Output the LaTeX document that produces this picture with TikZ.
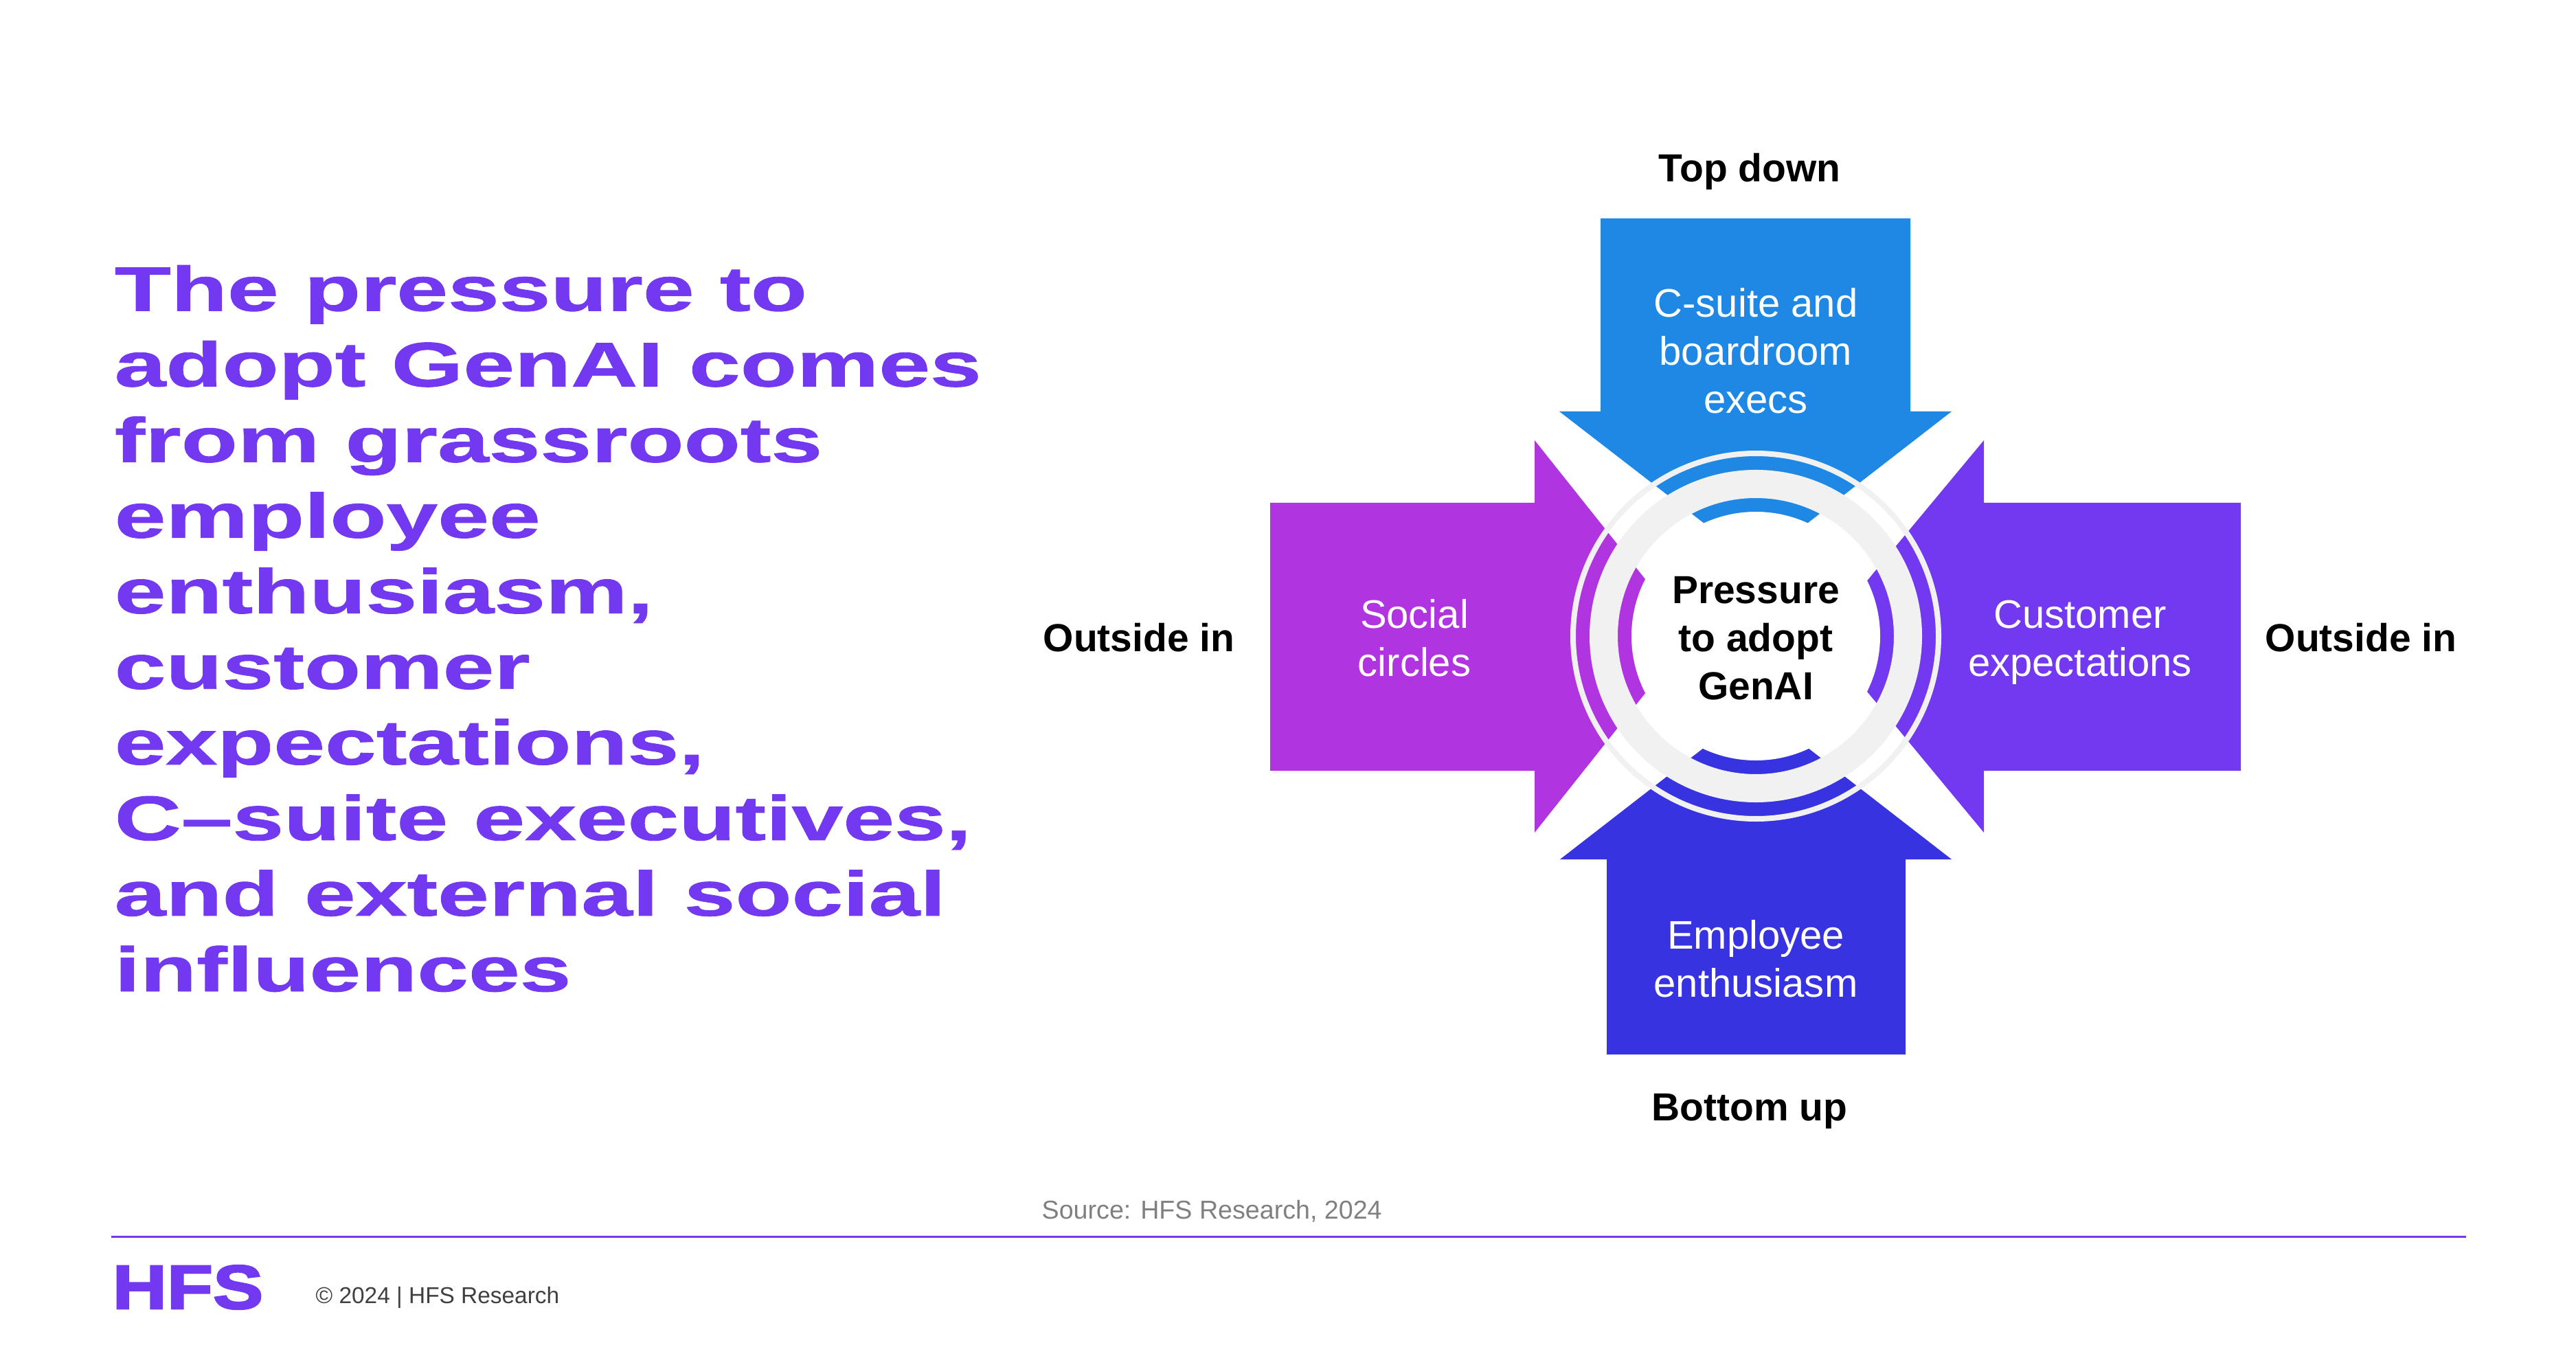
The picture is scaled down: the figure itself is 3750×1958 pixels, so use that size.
\documentclass[tikz,border=0pt]{standalone}
\usepackage{fontspec}
\setmainfont{Liberation Sans}
\newfontfamily\headfont[FakeStretch=1.47,FakeBold=1]{Liberation Sans Bold}
\newfontfamily\logofont[FakeStretch=1.22,FakeBold=3]{Liberation Sans Bold}
\definecolor{hfsblue}{HTML}{1F88E5}
\definecolor{hfspurple}{HTML}{7239F0}
\definecolor{hfsmagenta}{HTML}{B035E0}
\definecolor{hfsindigo}{HTML}{3833E0}
\definecolor{hfsring}{HTML}{F1F1F1}
\tikzset{
    armtext/.style={text=white,align=center,inner sep=0pt,font=\fontsize{16.5}{19.9}\selectfont},
    sidetext/.style={text=black,align=center,inner sep=0pt,font=\bfseries\fontsize{16.2}{19.9}\selectfont},
}
\begin{document}
\begin{tikzpicture}[x=0.01cm,y=-0.01cm]
    \useasboundingbox (0,0) rectangle (3750,1958);

    % 四个箭头,尖端朝向圆心
    \fill[hfsblue] (2330,318) -- (2781,318) -- (2781,599) -- (2841,599) -- (2556,820)
        -- (2270,599) -- (2330,599) -- cycle;
    \fill[hfsindigo] (2339,1535) -- (2774,1535) -- (2774,1251) -- (2841,1251) -- (2556,1030)
        -- (2271,1251) -- (2339,1251) -- cycle;
    \fill[hfsmagenta] (1849,732) -- (1849,1122) -- (2234,1122) -- (2234,1212) -- (2461,926)
        -- (2234,641) -- (2234,732) -- cycle;
    \fill[hfspurple] (3262,732) -- (3262,1122) -- (2888,1122) -- (2888,1212) -- (2651,926)
        -- (2888,641) -- (2888,732) -- cycle;

    % 圆环盖在箭头上
    \fill[white] (2556,926) circle (181);
    \draw[hfsring,line width=0.41cm] (2556,926) circle (221.5);
    \draw[hfsring,line width=0.08cm] (2556,926) circle (266);

    \node[sidetext] (center) at (2556,929) {Pressure\\to adopt\\GenAI};

    \node[armtext] (top) at (2556,511) {C-suite and\\boardroom\\execs};
    \node[armtext] (bottom) at (2556,1396) {Employee\\enthusiasm};
    \node[armtext] (left) at (2059,929) {Social\\circles};
    \node[armtext] (right) at (3028,935) {Customer\\expectations};

    \node[sidetext] (topdown) at (2547,250) {Top down};
    \node[sidetext] (bottomup) at (2547,1618) {Bottom up};
    \node[sidetext] (outleft) at (1658,928) {Outside in};
    \node[sidetext] (outright) at (3437,928) {Outside in};

    % 左侧标题
    \node[anchor=base west,inner sep=0pt,text=hfspurple,align=left,
        font=\headfont\fontsize{26}{31.3}\selectfont] (title) at (166,1443)
        {The pressure to\\adopt GenAI comes\\from grassroots\\employee\\enthusiasm,\\customer\\expectations,\\C–suite executives,\\and external social\\influences};

    % 页脚
    \node[anchor=base west,inner sep=0pt,text=black!50,font=\fontsize{10.7}{13}\selectfont] (source) at (1516,1774)
        {Source: HFS Research, 2024};
    \coordinate (ruleleft) at (162,1800);
    \coordinate (ruleright) at (3590,1800);
    \draw[hfspurple,line width=0.03cm] (ruleleft) -- (ruleright);
    \node[anchor=base west,inner sep=0pt,text=hfspurple,font=\logofont\fontsize{25.6}{27}\selectfont] (logo) at (163,1905) {HFS};
    \node[anchor=base west,inner sep=0pt,text=black!75,font=\fontsize{9.5}{12}\selectfont] (copyright) at (459,1897)
        {© 2024 | HFS Research};
\end{tikzpicture}
\end{document}
